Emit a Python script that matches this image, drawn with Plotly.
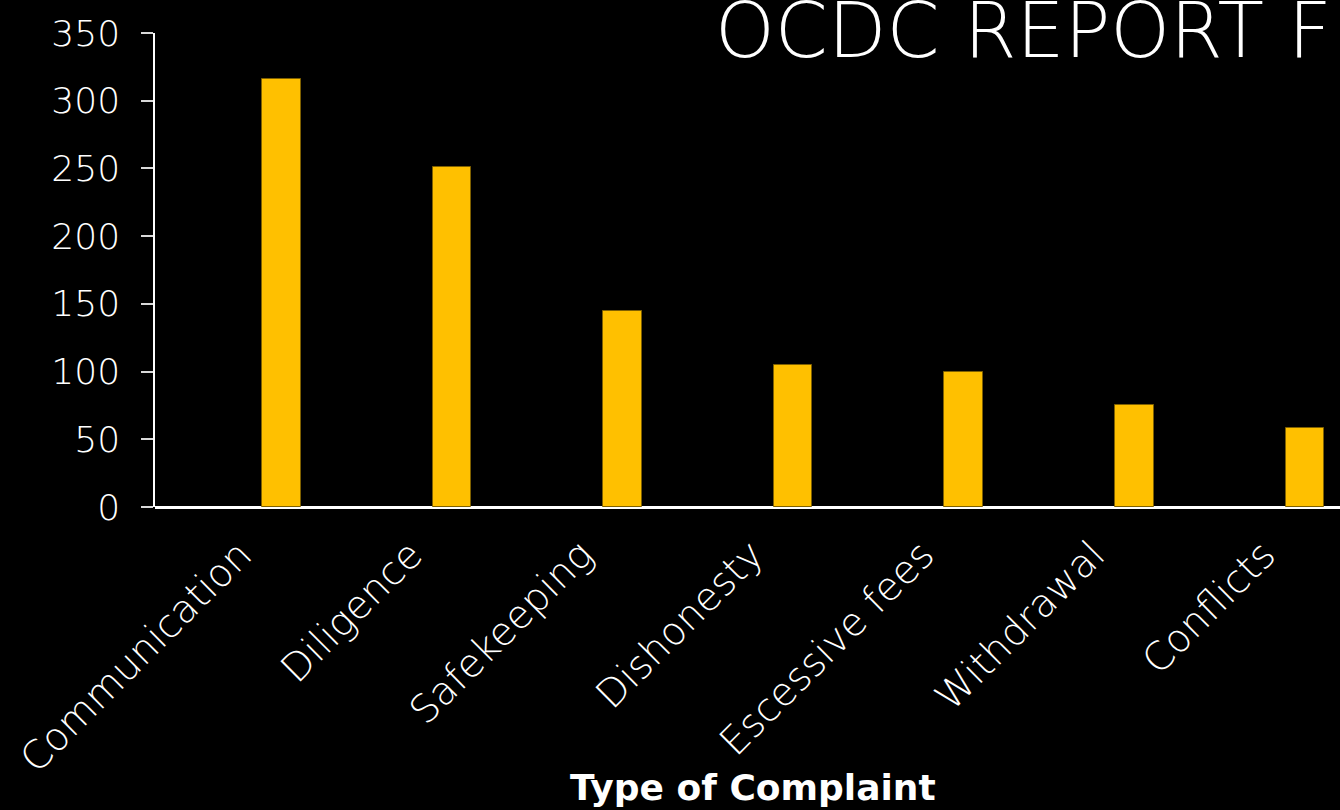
import plotly.graph_objects as go

categories = ["Communication", "Diligence", "Safekeeping", "Dishonesty",
              "Escessive fees", "Withdrawal", "Conflicts"]
complaints = [316, 251, 145, 105, 100, 75, 58]
y_ticks = [0, 50, 100, 150, 200, 250, 300, 350]
title_text = "OCDC REPORT F"
x_title = "Type of Complaint"

LIGHT = dict(family="DejaVu Sans", color="white", weight=200)

fig = go.Figure()
fig.add_trace(go.Bar(
    x=categories, y=complaints,
    marker=dict(color="#FFC000", line=dict(color="#7f6000", width=1)),
    offset=0.127, width=0.226,
))

fig.update_layout(
    width=1340, height=810,
    paper_bgcolor="black", plot_bgcolor="black",
    margin=dict(l=155, r=0, t=33, b=303),
    showlegend=False,
    bargap=0,
    xaxis=dict(
        type="category", range=[-0.5, 6.446],
        showgrid=False, zeroline=False,
        showline=False, ticks="",
        tickangle=-45,
        ticklabelstandoff=16,
        tickfont=dict(size=39, **LIGHT),
    ),
    yaxis=dict(
        range=[0, 350], tickvals=y_ticks,
        showgrid=False, zeroline=True, zerolinecolor="white", zerolinewidth=2.5,
        showline=True, linecolor="white", linewidth=1.5,
        ticks="outside", ticklen=12, tickcolor="#d9d9d9", tickwidth=1.5,
        ticklabelstandoff=14,
        tickfont=dict(size=36, **LIGHT),
    ),
    annotations=[
        dict(text=title_text, xref="paper", yref="paper",
             x=(713 - 155) / 1185, y=1 + (33 - 31) / 473.7,
             xanchor="left", yanchor="middle", showarrow=False,
             font=dict(size=76, **LIGHT)),
        dict(text="<b>" + x_title + "</b>", xref="paper", yref="paper",
             x=(753 - 155) / 1185, y=-(787 - 507) / 473.7,
             xanchor="center", yanchor="middle", showarrow=False,
             font=dict(family="DejaVu Sans", size=36, color="white")),
    ],
)

fig.write_html("out.html")
